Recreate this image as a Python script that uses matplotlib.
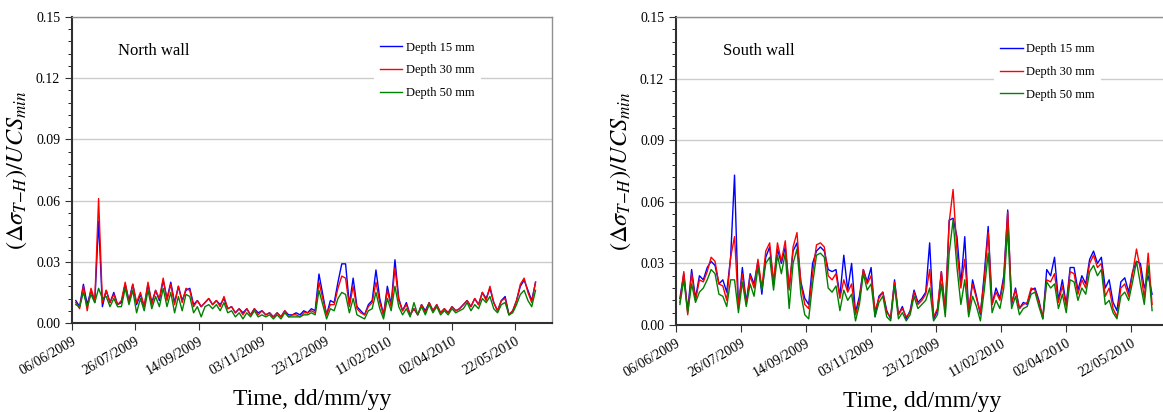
import datetime as dt
import numpy as np
import pandas as pd
import matplotlib
matplotlib.use("Agg")
import matplotlib.pyplot as plt
import matplotlib.dates as mdates
from matplotlib.ticker import MultipleLocator, FormatStrFormatter

plt.rcParams['font.family'] = ['Liberation Serif', 'DejaVu Serif']
plt.rcParams['mathtext.fontset'] = 'stix'

# readings every 3 days, first one on 09/06/2009
first_day = "2009-06-09"

north_15 = [0.011, 0.008, 0.019, 0.009, 0.016, 0.010, 0.050, 0.008, 0.016, 0.010,
            0.015, 0.009, 0.010, 0.019, 0.011, 0.019, 0.009, 0.014, 0.008, 0.019,
            0.010, 0.016, 0.011, 0.021, 0.012, 0.020, 0.010, 0.018, 0.011, 0.016,
            0.017, 0.009, 0.011, 0.008, 0.010, 0.012, 0.009, 0.011, 0.009, 0.012,
            0.007, 0.008, 0.005, 0.007, 0.005, 0.007, 0.004, 0.007, 0.005, 0.006,
            0.004, 0.005, 0.003, 0.005, 0.003, 0.006, 0.004, 0.004, 0.005, 0.004,
            0.006, 0.005, 0.007, 0.006, 0.024, 0.014, 0.004, 0.011, 0.010, 0.020,
            0.029, 0.029, 0.009, 0.022, 0.008, 0.006, 0.004, 0.009, 0.011, 0.026,
            0.012, 0.004, 0.018, 0.009, 0.031, 0.012, 0.006, 0.010, 0.004, 0.007,
            0.004, 0.009, 0.006, 0.010, 0.006, 0.009, 0.005, 0.007, 0.005, 0.008,
            0.006, 0.007, 0.009, 0.011, 0.008, 0.012, 0.009, 0.015, 0.012, 0.017,
            0.010, 0.006, 0.011, 0.013, 0.004, 0.006, 0.011, 0.018, 0.021, 0.016,
            0.011, 0.020]
north_30 = [0.010, 0.007, 0.018, 0.006, 0.017, 0.011, 0.061, 0.010, 0.016, 0.010,
            0.014, 0.009, 0.011, 0.020, 0.010, 0.019, 0.010, 0.015, 0.008, 0.020,
            0.009, 0.016, 0.012, 0.022, 0.011, 0.019, 0.009, 0.018, 0.010, 0.017,
            0.016, 0.008, 0.011, 0.008, 0.010, 0.012, 0.009, 0.011, 0.008, 0.013,
            0.007, 0.008, 0.005, 0.007, 0.004, 0.007, 0.004, 0.007, 0.004, 0.006,
            0.004, 0.005, 0.003, 0.005, 0.003, 0.006, 0.003, 0.004, 0.004, 0.003,
            0.005, 0.005, 0.006, 0.005, 0.020, 0.012, 0.004, 0.009, 0.009, 0.017,
            0.023, 0.022, 0.008, 0.018, 0.007, 0.005, 0.004, 0.008, 0.010, 0.020,
            0.010, 0.004, 0.016, 0.008, 0.027, 0.011, 0.006, 0.009, 0.004, 0.007,
            0.004, 0.009, 0.005, 0.010, 0.006, 0.009, 0.005, 0.007, 0.005, 0.008,
            0.006, 0.007, 0.009, 0.011, 0.008, 0.012, 0.009, 0.015, 0.011, 0.018,
            0.010, 0.006, 0.011, 0.012, 0.004, 0.006, 0.011, 0.019, 0.022, 0.015,
            0.010, 0.020]
north_50 = [0.009, 0.008, 0.015, 0.008, 0.014, 0.010, 0.017, 0.012, 0.013, 0.008,
            0.012, 0.008, 0.008, 0.017, 0.009, 0.016, 0.005, 0.012, 0.006, 0.016,
            0.007, 0.013, 0.008, 0.017, 0.008, 0.015, 0.005, 0.013, 0.006, 0.014,
            0.013, 0.005, 0.008, 0.003, 0.008, 0.009, 0.007, 0.009, 0.006, 0.010,
            0.005, 0.006, 0.003, 0.005, 0.002, 0.005, 0.003, 0.006, 0.003, 0.004,
            0.003, 0.004, 0.002, 0.004, 0.002, 0.005, 0.003, 0.003, 0.003, 0.003,
            0.004, 0.004, 0.005, 0.004, 0.016, 0.009, 0.002, 0.007, 0.006, 0.012,
            0.015, 0.014, 0.005, 0.012, 0.004, 0.003, 0.002, 0.006, 0.007, 0.015,
            0.007, 0.002, 0.012, 0.006, 0.018, 0.008, 0.004, 0.007, 0.003, 0.010,
            0.004, 0.008, 0.004, 0.009, 0.005, 0.008, 0.004, 0.006, 0.004, 0.007,
            0.005, 0.006, 0.007, 0.010, 0.006, 0.009, 0.007, 0.012, 0.010, 0.013,
            0.007, 0.005, 0.009, 0.010, 0.004, 0.005, 0.009, 0.014, 0.016, 0.011,
            0.008, 0.016]

south_15 = [0.013, 0.025, 0.007, 0.027, 0.013, 0.024, 0.022, 0.028, 0.031, 0.029,
            0.020, 0.022, 0.016, 0.033, 0.073, 0.008, 0.028, 0.011, 0.025, 0.020,
            0.031, 0.015, 0.033, 0.038, 0.020, 0.037, 0.030, 0.038, 0.018, 0.036,
            0.040, 0.021, 0.013, 0.010, 0.030, 0.036, 0.038, 0.036, 0.027, 0.026,
            0.027, 0.014, 0.034, 0.017, 0.030, 0.006, 0.014, 0.027, 0.021, 0.028,
            0.004, 0.014, 0.016, 0.007, 0.003, 0.022, 0.005, 0.009, 0.003, 0.007,
            0.017, 0.011, 0.013, 0.016, 0.040, 0.003, 0.007, 0.026, 0.006, 0.051,
            0.052, 0.043, 0.020, 0.043, 0.006, 0.022, 0.014, 0.005, 0.025, 0.048,
            0.010, 0.018, 0.013, 0.024, 0.056, 0.010, 0.018, 0.008, 0.011, 0.010,
            0.017, 0.018, 0.012, 0.003, 0.027, 0.024, 0.033, 0.012, 0.022, 0.010,
            0.028, 0.028, 0.017, 0.024, 0.020, 0.032, 0.036, 0.030, 0.033, 0.018,
            0.022, 0.011, 0.007, 0.021, 0.023, 0.016, 0.026, 0.031, 0.030, 0.018,
            0.024, 0.015]
south_30 = [0.011, 0.026, 0.005, 0.025, 0.012, 0.022, 0.021, 0.026, 0.033, 0.031,
            0.020, 0.019, 0.012, 0.033, 0.043, 0.009, 0.025, 0.010, 0.024, 0.018,
            0.032, 0.018, 0.036, 0.040, 0.021, 0.040, 0.031, 0.041, 0.017, 0.038,
            0.045, 0.020, 0.010, 0.008, 0.025, 0.039, 0.040, 0.038, 0.024, 0.022,
            0.025, 0.013, 0.022, 0.016, 0.020, 0.005, 0.012, 0.027, 0.020, 0.024,
            0.007, 0.013, 0.016, 0.006, 0.004, 0.021, 0.005, 0.008, 0.004, 0.006,
            0.016, 0.010, 0.012, 0.015, 0.027, 0.004, 0.008, 0.026, 0.007, 0.050,
            0.066, 0.036, 0.018, 0.032, 0.007, 0.020, 0.013, 0.006, 0.022, 0.045,
            0.010, 0.016, 0.012, 0.022, 0.055, 0.011, 0.017, 0.008, 0.010, 0.011,
            0.018, 0.017, 0.011, 0.004, 0.022, 0.021, 0.025, 0.011, 0.019, 0.009,
            0.026, 0.025, 0.015, 0.022, 0.018, 0.030, 0.034, 0.028, 0.030, 0.014,
            0.018, 0.008, 0.004, 0.018, 0.020, 0.014, 0.025, 0.037, 0.027, 0.013,
            0.035, 0.010]
south_50 = [0.010, 0.022, 0.006, 0.020, 0.011, 0.016, 0.018, 0.022, 0.027, 0.025,
            0.015, 0.014, 0.009, 0.022, 0.022, 0.006, 0.021, 0.009, 0.020, 0.014,
            0.028, 0.017, 0.030, 0.033, 0.017, 0.034, 0.025, 0.035, 0.008, 0.030,
            0.037, 0.015, 0.005, 0.003, 0.020, 0.034, 0.035, 0.033, 0.018, 0.016,
            0.019, 0.007, 0.017, 0.012, 0.015, 0.002, 0.010, 0.025, 0.017, 0.020,
            0.004, 0.011, 0.014, 0.004, 0.002, 0.019, 0.003, 0.006, 0.002, 0.005,
            0.014, 0.008, 0.010, 0.012, 0.018, 0.002, 0.005, 0.020, 0.004, 0.035,
            0.051, 0.028, 0.010, 0.022, 0.004, 0.014, 0.009, 0.002, 0.017, 0.035,
            0.006, 0.012, 0.008, 0.018, 0.047, 0.008, 0.014, 0.005, 0.008, 0.009,
            0.015, 0.016, 0.009, 0.003, 0.021, 0.018, 0.020, 0.008, 0.015, 0.006,
            0.022, 0.021, 0.012, 0.018, 0.015, 0.026, 0.029, 0.024, 0.027, 0.010,
            0.012, 0.006, 0.003, 0.014, 0.016, 0.012, 0.021, 0.031, 0.020, 0.010,
            0.029, 0.007]

labels = ["Depth 15 mm", "Depth 30 mm", "Depth 50 mm"]
colors = ["#0000ff", "#ff0000", "#008000"]

start = dt.datetime(2009, 6, 6)
end = start + dt.timedelta(days=379)
ticks = [start + dt.timedelta(days=50 * i) for i in range(8)]

fig = plt.figure(figsize=(11.63, 4.12), dpi=100)
ax1 = fig.add_axes([72 / 1163, 89 / 412, 480 / 1163, 306 / 412])
ax2 = fig.add_axes([676 / 1163, 87 / 412, 493 / 1163, 308 / 412])

panels = [(ax1, "North wall", [north_15, north_30, north_50], (0.865, 0.96)),
          (ax2, "South wall", [south_15, south_30, south_50], (0.875, 0.955))]

for ax, name, series, leg_pos in panels:
    for vals, lab, col in zip(series, labels, colors):
        dates = pd.date_range(first_day, periods=len(vals), freq="3D")
        ax.plot(dates, vals, color=col, lw=1.0, label=lab)

    ax.set_xlim(start, end)
    ax.set_ylim(0, 0.15)
    ax.set_xticks(ticks)
    ax.xaxis.set_major_formatter(mdates.DateFormatter("%d/%m/%Y"))
    ax.yaxis.set_major_locator(MultipleLocator(0.03))
    ax.yaxis.set_minor_locator(MultipleLocator(0.006))
    ax.yaxis.set_major_formatter(FormatStrFormatter("%.2f"))
    ax.tick_params(axis="both", direction="out", labelsize=10, color="#303030")
    ax.tick_params(axis="y", which="major", length=5)
    ax.tick_params(axis="y", which="minor", length=3)
    ax.tick_params(axis="x", which="major", length=5)
    for t in ax.get_xticklabels():
        t.set_rotation(30)
        t.set_ha("right")
        t.set_rotation_mode("anchor")

    ax.grid(axis="y", color="#cccccc", lw=1.0)
    ax.set_axisbelow(True)
    for side in ["left", "bottom"]:
        ax.spines[side].set_color("#303030")
        ax.spines[side].set_linewidth(1.5)
    for side in ["top", "right"]:
        ax.spines[side].set_color("#909090")
        ax.spines[side].set_linewidth(1.0)

    ax.text(0.096, 0.89, name, transform=ax.transAxes, fontsize=12, va="center")
    ax.set_ylabel(r"$(\Delta\sigma_{T\mathrm{-}H})/UCS_{min}$", fontsize=17.5, labelpad=5)
    ax.set_xlabel("Time, dd/mm/yy", fontsize=17, labelpad=8)

    leg = ax.legend(loc="upper right", bbox_to_anchor=leg_pos,
                    fontsize=9, frameon=True, handlelength=1.8, labelspacing=0.85,
                    handletextpad=0.3, borderpad=0.5)
    leg.get_frame().set_facecolor("white")
    leg.get_frame().set_edgecolor("none")
    leg.get_frame().set_alpha(1.0)

fig.savefig("out.png", dpi=100)
